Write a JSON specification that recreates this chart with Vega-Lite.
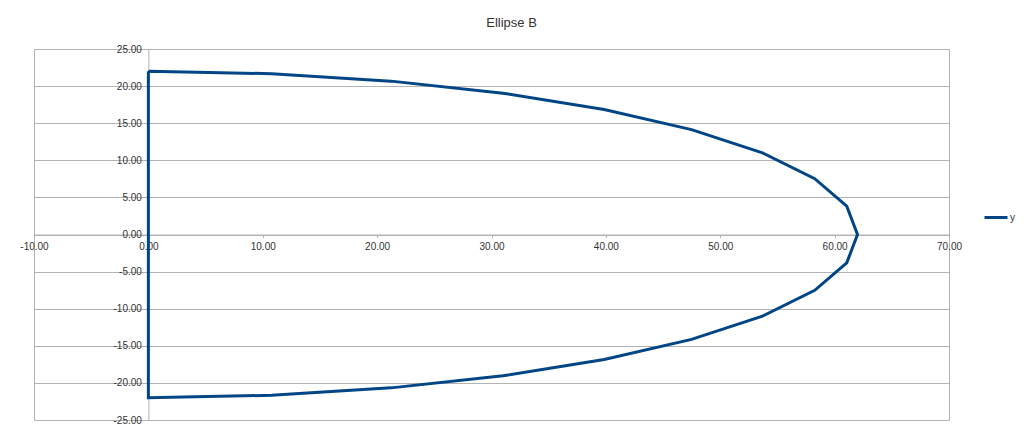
{
  "$schema": "https://vega.github.io/schema/vega-lite/v6.json",
  "width": 915,
  "height": 371,
  "autosize": {"type": "none"},
  "padding": {"left": 34, "top": 49, "right": 75, "bottom": 14},
  "background": "white",
  "title": {"text": "Ellipse B", "anchor": "middle", "dx": 20, "offset": 4, "baseline": "alphabetic", "font": "Liberation Sans", "fontSize": 13, "fontWeight": "normal", "color": "#333333"},
  "data": {"values": [
    {"i": 0, "x": 0, "y": 22, "s": "y"},
    {"i": 1, "x": 10.77, "y": 21.67, "s": "y"},
    {"i": 2, "x": 21.21, "y": 20.67, "s": "y"},
    {"i": 3, "x": 31.0, "y": 19.05, "s": "y"},
    {"i": 4, "x": 39.85, "y": 16.85, "s": "y"},
    {"i": 5, "x": 47.49, "y": 14.14, "s": "y"},
    {"i": 6, "x": 53.69, "y": 11.0, "s": "y"},
    {"i": 7, "x": 58.26, "y": 7.52, "s": "y"},
    {"i": 8, "x": 61.06, "y": 3.82, "s": "y"},
    {"i": 9, "x": 62.0, "y": 0, "s": "y"},
    {"i": 10, "x": 61.06, "y": -3.82, "s": "y"},
    {"i": 11, "x": 58.26, "y": -7.52, "s": "y"},
    {"i": 12, "x": 53.69, "y": -11.0, "s": "y"},
    {"i": 13, "x": 47.49, "y": -14.14, "s": "y"},
    {"i": 14, "x": 39.85, "y": -16.85, "s": "y"},
    {"i": 15, "x": 31.0, "y": -19.05, "s": "y"},
    {"i": 16, "x": 21.21, "y": -20.67, "s": "y"},
    {"i": 17, "x": 10.77, "y": -21.67, "s": "y"},
    {"i": 18, "x": 0, "y": -22, "s": "y"},
    {"i": 19, "x": 0, "y": 22, "s": "y"}
  ]},
  "mark": {"type": "line", "strokeWidth": 3, "strokeJoin": "miter", "clip": false},
  "encoding": {
    "x": {"field": "x", "type": "quantitative",
      "scale": {"domain": [-10, 70], "nice": false, "zero": false},
      "axis": {"title": null, "values": [-10, 0, 10, 20, 30, 40, 50, 60, 70], "format": ".2f", "grid": false,
        "offset": -185.5, "domainColor": "#b3b3b3", "tickColor": "#b3b3b3", "tickSize": 3,
        "labelPadding": 4, "labelFlush": false, "labelFont": "Liberation Sans", "labelFontSize": 10, "labelColor": "#333333"}},
    "y": {"field": "y", "type": "quantitative",
      "scale": {"domain": [-25, 25], "nice": false, "zero": false},
      "axis": {"title": null, "values": [-25, -20, -15, -10, -5, 0, 5, 10, 15, 20, 25], "format": ".2f", "grid": true,
        "gridColor": "#b3b3b3", "gridOpacity": 1, "offset": -114.375, "domainColor": "#b3b3b3", "ticks": false,
        "labelPadding": 7, "labelFlush": false, "labelFont": "Liberation Sans", "labelFontSize": 10, "labelColor": "#333333"}},
    "order": {"field": "i", "type": "quantitative"},
    "color": {"field": "s", "type": "nominal", "scale": {"range": ["#004586"]},
      "legend": {"title": null, "orient": "none", "legendX": 949, "legendY": 155.5, "symbolType": "stroke", "symbolSize": 529,
        "symbolStrokeWidth": 3, "labelOffset": 1, "labelFont": "Liberation Sans", "labelFontSize": 10, "labelColor": "#333333", "padding": 0}}
  },
  "config": {
    "view": {"stroke": "#b3b3b3"},
    "locale": {"number": {"decimal": ".", "thousands": ",", "grouping": [3], "currency": ["$", ""], "minus": "-"}}
  }
}
